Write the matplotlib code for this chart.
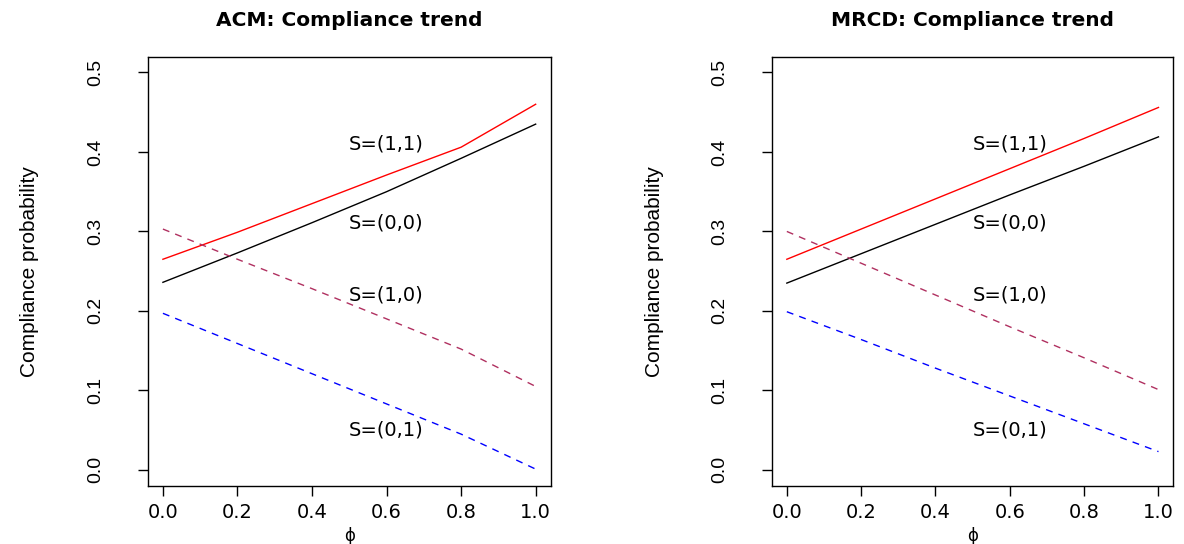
import matplotlib
matplotlib.use('Agg')
import matplotlib.pyplot as plt

# phi grid and compliance probabilities
phi = [0.0, 0.2, 0.4, 0.6, 0.8, 1.0]

acm_11 = [0.265, 0.299, 0.335, 0.371, 0.406, 0.460]
acm_00 = [0.236, 0.273, 0.311, 0.350, 0.392, 0.435]
acm_10 = [0.303, 0.265, 0.228, 0.190, 0.152, 0.105]
acm_01 = [0.197, 0.159, 0.121, 0.083, 0.045, 0.001]

mrcd_11 = [0.265, 0.303, 0.341, 0.379, 0.417, 0.456]
mrcd_00 = [0.235, 0.272, 0.309, 0.346, 0.382, 0.419]
mrcd_10 = [0.300, 0.260, 0.220, 0.180, 0.141, 0.101]
mrcd_01 = [0.199, 0.164, 0.128, 0.093, 0.058, 0.023]

labels = ["S=(1,1)", "S=(0,0)", "S=(1,0)", "S=(0,1)"]
label_y = [0.41, 0.31, 0.22, 0.05]
label_x = 0.6

xticks = [0.0, 0.2, 0.4, 0.6, 0.8, 1.0]
yticks = [0.0, 0.1, 0.2, 0.3, 0.4, 0.5]

titles = ["ACM: Compliance trend", "MRCD: Compliance trend"]
panels = [(acm_11, acm_00, acm_10, acm_01), (mrcd_11, mrcd_00, mrcd_10, mrcd_01)]

narrow = ['Liberation Sans Narrow', 'Liberation Sans', 'DejaVu Sans']


def draw(ax, series, title):
    s11, s00, s10, s01 = series
    ax.plot(phi, s11, color='#FF0000', lw=1.0)
    ax.plot(phi, s00, color='black', lw=1.0)
    ax.plot(phi, s10, color='#B03060', lw=1.0, dashes=(5, 4.5))
    ax.plot(phi, s01, color='#0000FF', lw=1.0, dashes=(5, 4.5))
    for txt, y in zip(labels, label_y):
        ax.text(label_x, y, txt, ha='center', va='center', fontsize=14,
                family='DejaVu Sans')
    ax.set_xlim(-0.04, 1.04)
    ax.set_ylim(-0.02, 0.52)
    ax.set_xticks(xticks, [f"{v:.1f}" for v in xticks])
    ax.set_yticks(yticks, [f"{v:.1f}" for v in yticks])
    ax.tick_params(axis='x', length=7.5, width=1, pad=5, labelsize=14)
    ax.tick_params(axis='y', length=7.5, width=1, pad=24, labelsize=14,
                   labelrotation=90)
    for lbl in ax.get_yticklabels():
        lbl.set_family(narrow)
        lbl.set_va('center')
    for sp in ax.spines.values():
        sp.set_linewidth(1.0)
    ax.set_title(title, fontsize=14.5, fontweight='bold', pad=22)
    ax.set_xlabel('ϕ', fontsize=12, family='DejaVu Sans', va='center')
    ax.xaxis.set_label_coords(0.5, -0.118)
    ax.set_ylabel('Compliance probability', fontsize=15, family=narrow)
    ax.yaxis.set_label_coords(-0.27, 0.5)


fig = plt.figure(figsize=(11.84, 5.44), dpi=100)
ax1 = fig.add_axes([0.125, 0.107, 0.340, 0.789])
ax2 = fig.add_axes([0.652, 0.107, 0.339, 0.789])
for ax, series, title in zip([ax1, ax2], panels, titles):
    draw(ax, series, title)

plt.savefig('out.png', dpi=100)
